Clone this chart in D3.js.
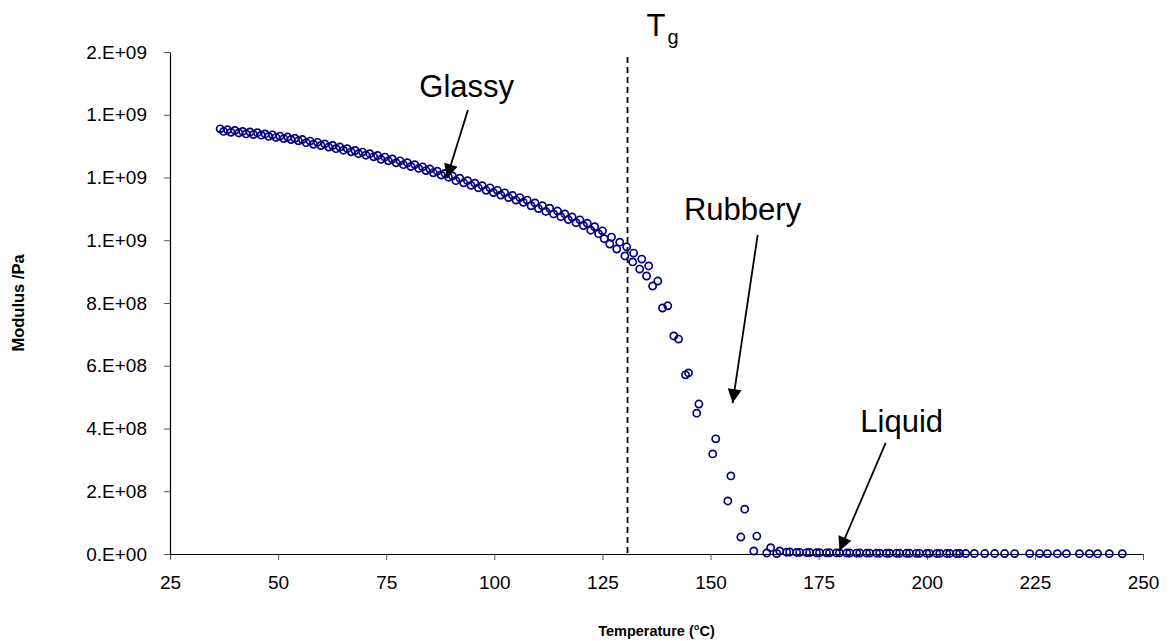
<!DOCTYPE html>
<html>
<head>
<meta charset="utf-8">
<script src="https://cdn.jsdelivr.net/npm/d3@7"></script>
<style>
  body { margin: 0; background: #fff; }
  svg text { font-family: "Liberation Sans", Arial, Helvetica, sans-serif; }
</style>
</head>
<body>
<svg id="chart" width="1173" height="641"></svg>
<script>
// Storage modulus vs temperature, two heating runs (°C, Pa)
const runATemp = [36.6, 38.3, 40.0, 41.8, 43.5, 45.2, 47.0, 48.7, 50.4, 52.2,
  53.9, 55.6, 57.4, 59.1, 60.8, 62.6, 64.3, 66.0, 67.8, 69.5,
  71.2, 73.0, 74.7, 76.4, 78.2, 79.9, 81.6, 83.4, 85.1, 86.8,
  88.6, 90.3, 92.0, 93.8, 95.5, 97.2, 99.0, 100.7, 102.4, 104.2,
  105.9, 107.6, 109.4, 111.1, 112.8, 114.6, 116.3, 118.0, 119.8, 121.5,
  123.2, 125.0,
  127.1, 129.0, 130.6, 132.2, 134.1, 135.7, 137.8, 140.1, 142.6, 144.9,
  147.3, 151.2, 154.7, 157.9, 160.7, 163.9, 166.0,
  168.3, 170.6, 172.9, 175.2, 177.5, 179.8, 182.2, 184.5, 186.8, 189.1,
  191.4, 193.7, 196.0, 198.3, 200.6, 203.0, 205.3, 207.6, 211.0, 213.4,
  215.7, 218.0, 220.3, 223.8, 226.1, 227.9, 230.2, 232.3, 235.3, 237.6,
  239.5, 242.2, 245.2];
const runAModulus = [1.355e9, 1.352e9, 1.350e9, 1.347e9, 1.345e9, 1.343e9, 1.339e9, 1.336e9, 1.332e9, 1.329e9,
  1.325e9, 1.321e9, 1.316e9, 1.312e9, 1.307e9, 1.302e9, 1.297e9, 1.292e9, 1.286e9, 1.281e9,
  1.276e9, 1.270e9, 1.265e9, 1.259e9, 1.253e9, 1.247e9, 1.241e9, 1.234e9, 1.227e9, 1.220e9,
  1.213e9, 1.205e9, 1.198e9, 1.190e9, 1.182e9, 1.174e9, 1.167e9, 1.159e9, 1.151e9, 1.143e9,
  1.136e9, 1.128e9, 1.119e9, 1.110e9, 1.102e9, 1.093e9, 1.084e9, 1.074e9, 1.065e9, 1.054e9,
  1.043e9, 1.030e9,
  1.010e9, 0.994e9, 0.979e9, 0.959e9, 0.940e9, 0.918e9, 0.870e9, 0.791e9, 0.685e9, 0.577e9,
  0.478e9, 0.367e9, 0.249e9, 0.143e9, 0.057e9, 2.0e7, 9.6e6,
  6.4e6, 5.2e6, 4.8e6, 4.1e6, 3.9e6, 3.5e6, 3.2e6, 3.0e6, 2.8e6, 2.6e6,
  2.5e6, 2.3e6, 2.2e6, 2.1e6, 2.0e6, 1.9e6, 1.8e6, 1.7e6, 1.6e6, 1.5e6,
  1.5e6, 1.4e6, 1.3e6, 1.3e6, 1.2e6, 1.2e6, 1.1e6, 1.1e6, 1.0e6, 1.0e6,
  0.9e6, 0.9e6, 0.8e6];

const runBTemp = [37.4, 39.1, 40.9, 42.6, 44.3, 46.1, 47.8, 49.5, 51.3, 53.0,
  54.7, 56.5, 58.2, 59.9, 61.7, 63.4, 65.1, 66.9, 68.6, 70.3,
  72.1, 73.8, 75.5, 77.3, 79.0, 80.7, 82.5, 84.2, 85.9, 87.7,
  89.4, 91.1, 92.9, 94.6, 96.3, 98.1, 99.8, 101.5, 103.3, 105.0,
  106.7, 108.5, 110.2, 111.9, 113.7, 115.4, 117.1, 118.9, 120.6, 122.3,
  124.1, 125.4,
  126.7, 128.3, 130.2, 132.0, 133.6, 135.2, 136.6, 138.9, 141.5, 144.2,
  146.8, 150.5, 154.0, 157.0, 160.0, 163.0, 165.3,
  167.6, 169.9, 172.2, 174.5, 176.8, 179.1, 181.5, 183.8, 186.1, 188.4,
  190.7, 193.0, 195.3, 197.6, 200.0, 202.3, 204.6, 206.9, 209.0];
const runBModulus = [1.347e9, 1.344e9, 1.342e9, 1.339e9, 1.337e9, 1.335e9, 1.331e9, 1.328e9, 1.324e9, 1.321e9,
  1.317e9, 1.311e9, 1.306e9, 1.302e9, 1.297e9, 1.292e9, 1.287e9, 1.282e9, 1.276e9, 1.271e9,
  1.266e9, 1.258e9, 1.253e9, 1.247e9, 1.241e9, 1.235e9, 1.229e9, 1.222e9, 1.215e9, 1.208e9,
  1.201e9, 1.190e9, 1.183e9, 1.175e9, 1.167e9, 1.159e9, 1.152e9, 1.144e9, 1.136e9, 1.128e9,
  1.121e9, 1.110e9, 1.101e9, 1.092e9, 1.084e9, 1.075e9, 1.066e9, 1.056e9, 1.047e9, 1.032e9,
  1.021e9, 1.005e9,
  0.988e9, 0.972e9, 0.950e9, 0.931e9, 0.908e9, 0.886e9, 0.854e9, 0.784e9, 0.695e9, 0.571e9,
  0.449e9, 0.319e9, 0.169e9, 0.054e9, 9.6e6, 3.2e6, 1.6e6,
  5.8e6, 5.0e6, 4.5e6, 4.0e6, 3.7e6, 3.4e6, 3.1e6, 2.9e6, 2.7e6, 2.6e6,
  2.4e6, 2.3e6, 2.2e6, 2.0e6, 1.9e6, 1.8e6, 1.7e6, 1.6e6, 1.5e6];

const xTicks = [25, 50, 75, 100, 125, 150, 175, 200, 225, 250];
const yTicks = [0, 2e8, 4e8, 6e8, 8e8, 1.0e9, 1.2e9, 1.4e9, 1.6e9];
const yTickLabels = ["0.E+00", "2.E+08", "4.E+08", "6.E+08", "8.E+08", "1.E+09", "1.E+09", "1.E+09", "2.E+09"];

const glassTransitionTemp = 130.8;

// Region labels with arrows, in data units
const regionNotes = [
  { label: "Glassy",  text: [93.6, 1.455e9], from: [93.9, 1.415e9], to: [89.0, 1.198e9] },
  { label: "Rubbery", text: [157.4, 1.065e9], from: [160.9, 1.017e9], to: [155.1, 0.481e9] },
  { label: "Liquid",  text: [194.2, 0.389e9], from: [190.5, 0.354e9], to: [179.8, 0.0096e9] }
];

const svg = d3.select("#chart");
const x = d3.scaleLinear().domain([25, 250]).range([170, 1143]);
const y = d3.scaleLinear().domain([0, 1.6e9]).range([554, 52]);

// Axes
const xAxis = svg.append("g")
  .attr("transform", `translate(0,${y(0)})`)
  .call(d3.axisBottom(x).tickValues(xTicks).tickSize(6).tickSizeOuter(0).tickPadding(11).tickFormat(d3.format("d")));
const yAxis = svg.append("g")
  .attr("transform", `translate(${x(25)},0)`)
  .call(d3.axisLeft(y).tickValues(yTicks).tickSize(6).tickSizeOuter(0).tickPadding(17)
    .tickFormat((d, i) => yTickLabels[i]));
[xAxis, yAxis].forEach(g => {
  g.select(".domain").attr("stroke", "#000").attr("stroke-width", 1.2);
  g.selectAll(".tick line").attr("stroke", "#555").attr("stroke-width", 1);
  g.selectAll(".tick text").attr("fill", "#000").attr("font-size", 19)
    .attr("font-family", '"Liberation Sans", Arial, sans-serif');
});
xAxis.selectAll(".tick text").attr("dy", "0.95em");

// Axis titles
svg.append("text")
  .attr("x", (x(25) + x(250)) / 2).attr("y", 636)
  .attr("text-anchor", "middle").attr("font-size", 14.5).attr("font-weight", "bold")
  .text("Temperature (°C)");
svg.append("text")
  .attr("transform", `translate(24,${(y(0) + y(1.6e9)) / 2}) rotate(-90)`)
  .attr("text-anchor", "middle").attr("font-size", 16.5).attr("font-weight", "bold")
  .text("Modulus /Pa");

// Glass transition marker
svg.append("line")
  .attr("x1", x(glassTransitionTemp)).attr("x2", x(glassTransitionTemp))
  .attr("y1", 57).attr("y2", y(0))
  .attr("stroke", "#000").attr("stroke-width", 1.8).attr("stroke-dasharray", "6,4");
const tg = svg.append("text")
  .attr("x", x(glassTransitionTemp) + 19).attr("y", 36)
  .attr("font-size", 31);
tg.append("tspan").text("T");
tg.append("tspan").attr("font-size", 20).attr("dx", 2).attr("dy", 8).text("g");

// Data points
const pointsA = d3.zip(runATemp, runAModulus);
const pointsB = d3.zip(runBTemp, runBModulus);
svg.append("g")
  .selectAll("circle")
  .data(pointsA.concat(pointsB))
  .join("circle")
  .attr("cx", d => x(d[0]))
  .attr("cy", d => y(d[1]))
  .attr("r", 3.6)
  .attr("fill", "none")
  .attr("stroke", "#000080")
  .attr("stroke-width", 1.7);

// Region annotations
svg.append("defs").append("marker")
  .attr("id", "arrowHead")
  .attr("viewBox", "0 0 10 10")
  .attr("refX", 10).attr("refY", 5)
  .attr("markerUnits", "userSpaceOnUse")
  .attr("markerWidth", 16).attr("markerHeight", 14)
  .attr("orient", "auto")
  .append("path").attr("d", "M0,0 L10,5 L0,10 Z").attr("fill", "#000");

const notes = svg.append("g");
regionNotes.forEach(n => {
  notes.append("text")
    .attr("x", x(n.text[0])).attr("y", y(n.text[1]))
    .attr("text-anchor", "middle").attr("font-size", 31)
    .text(n.label);
  notes.append("line")
    .attr("x1", x(n.from[0])).attr("y1", y(n.from[1]))
    .attr("x2", x(n.to[0])).attr("y2", y(n.to[1]))
    .attr("stroke", "#000").attr("stroke-width", 1.8)
    .attr("marker-end", "url(#arrowHead)");
});
</script>
</body>
</html>
